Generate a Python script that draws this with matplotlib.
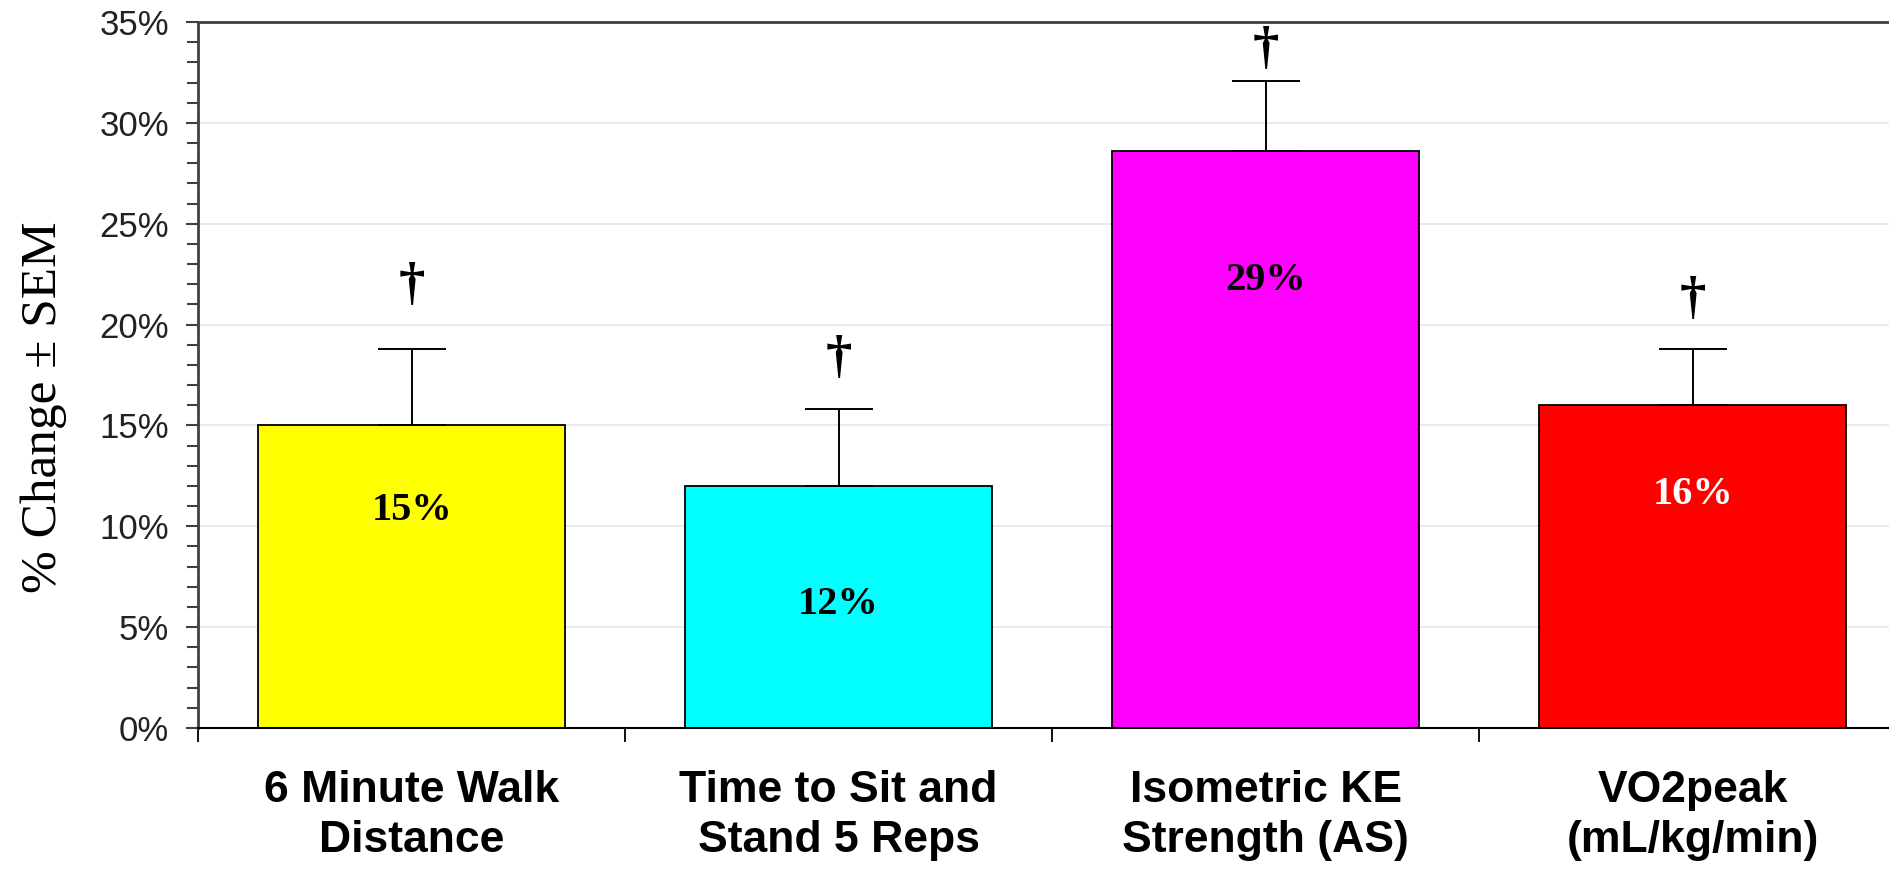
import numpy as np
import matplotlib.pyplot as plt

categories = ["6 Minute Walk\nDistance", "Time to Sit and\nStand 5 Reps",
              "Isometric KE\nStrength (AS)", "VO2peak\n(mL/kg/min)"]
change = [15.0, 12.0, 28.6, 16.0]
sem = [3.8, 3.8, 3.5, 2.8]
bar_colors = ["#FFFF00", "#00FFFF", "#FF00FF", "#FF0000"]
value_labels = ["15%", "12%", "29%", "16%"]
value_label_y = [10.8, 6.1, 22.2, 11.6]
value_label_colors = ["black", "black", "black", "white"]
dagger_y = [21.9, 18.3, 33.6, 21.2]

fig = plt.figure(figsize=(18.9, 8.71), dpi=100)
ax = fig.add_axes([0.1048, 0.1642, 0.9037, 0.8105])

x = np.arange(len(categories))
ax.bar(x, change, width=0.717, color=bar_colors, edgecolor="black",
       linewidth=1.3, zorder=2)
ax.errorbar(x, change, yerr=[np.zeros(len(sem)), sem], fmt="none",
            ecolor="black", elinewidth=1.4, capsize=24.5, capthick=1.4, zorder=3)

for xi, txt, yy, col in zip(x, value_labels, value_label_y, value_label_colors):
    ax.text(xi, yy, txt, ha="center", va="center", color=col,
            fontsize=29, fontweight="bold", family="Liberation Serif", zorder=4)

for xi, yy in zip(x, dagger_y):
    ax.text(xi, yy, "\u2020", ha="center", va="center", color="black",
            fontsize=38, fontweight="bold", family="Liberation Serif", zorder=4)

ax.set_xlim(-0.5, 3.5)
ax.set_ylim(0, 35)

ax.set_yticks(np.arange(0, 36, 5))
ax.set_yticks(np.arange(0, 36, 1), minor=True)
ax.set_yticklabels([f"{v}%" for v in range(0, 36, 5)], fontsize=25,
                   family="Liberation Sans", color="#222222")
ax.tick_params(axis="y", which="major", length=9, width=1.5, color="#404040", pad=12)
ax.tick_params(axis="y", which="minor", length=8, width=1.5, color="#404040")

ax.set_xticks(np.arange(-0.5, 4, 1.0))
ax.set_xticklabels([])
ax.set_xticks(x, minor=True)
ax.set_xticklabels(categories, minor=True, fontsize=32, fontweight="bold",
                   family="Liberation Sans", linespacing=1.3)
ax.tick_params(axis="x", which="major", length=10, width=1.3, color="black", direction="out")
ax.tick_params(axis="x", which="minor", length=0, pad=30)

ax.grid(axis="y", which="major", color="#e6e6e6", linewidth=1.2, zorder=0)
ax.set_axisbelow(True)

ax.spines["left"].set_color("#404040")
ax.spines["left"].set_linewidth(2)
ax.spines["top"].set_color("#404040")
ax.spines["top"].set_linewidth(2)
ax.spines["bottom"].set_color("black")
ax.spines["bottom"].set_linewidth(1.5)
ax.spines["right"].set_visible(False)

ax.set_ylabel("% Change \u00b1 SEM", fontsize=37, family="Liberation Serif")
ax.yaxis.set_label_coords(-0.077, 0.455)

fig.savefig("out.png", dpi=100)
